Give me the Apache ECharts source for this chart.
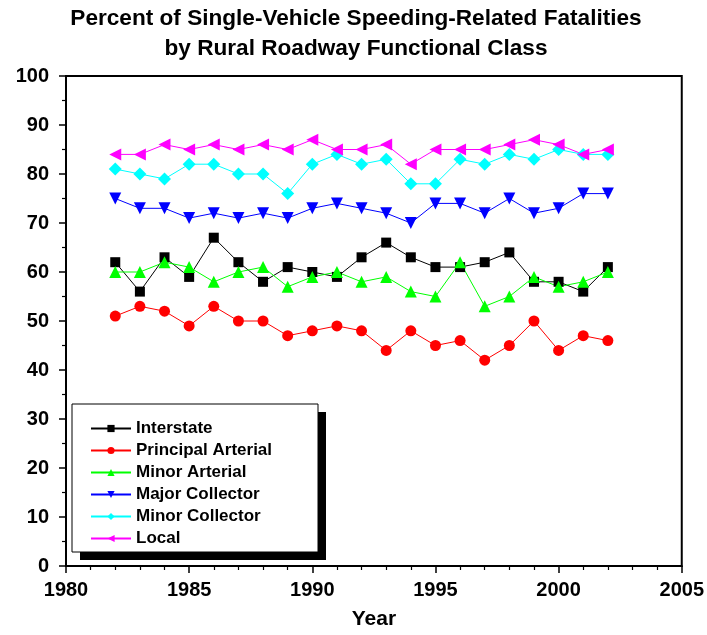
<!DOCTYPE html>
<html><head><meta charset="utf-8">
<script src="https://cdn.jsdelivr.net/npm/echarts@6/dist/echarts.min.js"></script>
<style>html,body{margin:0;padding:0;background:#fff}#c{width:707px;height:635px}</style>
</head><body><div id="c"></div>
<script>
const years = [1982,1983,1984,1985,1986,1987,1988,1989,1990,1991,1992,1993,1994,1995,1996,1997,1998,1999,2000,2001,2002];
const interstate = [62,56,63,59,67,62,58,61,60,59,63,66,63,61,61,62,64,58,58,56,61];
const principalArterial = [51,53,52,49,53,50,50,47,48,49,48,44,48,45,46,42,45,50,44,47,46];
const minorArterial = [60,60,62,61,58,60,61,57,59,60,58,59,56,55,62,53,55,59,57,58,60];
const majorCollector = [75,73,73,71,72,71,72,71,73,74,73,72,70,74,74,72,75,72,73,76,76];
const minorCollector = [81,80,79,82,82,80,80,76,82,84,82,83,78,78,83,82,84,83,85,84,84];
const local = [84,84,86,85,86,85,86,85,87,85,85,86,82,85,85,85,86,87,86,84,85];
const seriesNames = ['Interstate','Principal Arterial','Minor Arterial','Major Collector','Minor Collector','Local'];
const titleText = 'Percent of Single-Vehicle Speeding-Related Fatalities\nby Rural Roadway Functional Class';

const FONT = 'Liberation Sans, Arial, sans-serif';
const pair = arr => years.map((y,i)=>[y,arr[i]]);
const defs = [
  {data: interstate, color:'#000000', symbol:'rect', size:10, rot:0},
  {data: principalArterial, color:'#ff0000', symbol:'circle', size:11, rot:0},
  {data: minorArterial, color:'#00ff00', symbol:'triangle', size:12, rot:0},
  {data: majorCollector, color:'#0000ff', symbol:'triangle', size:12, rot:180},
  {data: minorCollector, color:'#00ffff', symbol:'diamond', size:13, rot:0},
  {data: local, color:'#ff00ff', symbol:'triangle', size:12, rot:90}
];
const chart = echarts.init(document.getElementById('c'));
chart.setOption({
  animation:false,
  backgroundColor:'#fff',
  title:{text:titleText,left:356,top:0,textAlign:'center',padding:[4,0,0,0],
    textStyle:{fontFamily:FONT,fontWeight:'bold',fontSize:22.6,lineHeight:30,color:'#000'}},
  grid:{left:66,right:24,top:76,bottom:68,show:true,borderColor:'#000',borderWidth:2,backgroundColor:'transparent'},
  graphic:[
    {type:'rect',shape:{x:80,y:412,width:246,height:148},style:{fill:'#000'},z:5},
    {type:'rect',shape:{x:72,y:404,width:246,height:148},style:{fill:'#fff',stroke:'#000',lineWidth:1},z:6}
  ],
  legend:{orient:'vertical',left:90,top:420,padding:0,itemWidth:40,itemHeight:9,itemGap:5,itemStyle:{borderWidth:0},z:10,
    textStyle:{fontFamily:FONT,fontWeight:'bold',fontSize:17,color:'#000'},
    data:seriesNames},
  xAxis:{type:'value',min:1980,max:2005,interval:5,
    name:'Year',nameLocation:'middle',nameGap:43,
    nameTextStyle:{fontFamily:FONT,fontWeight:'bold',fontSize:21,color:'#000'},
    axisLine:{show:true,lineStyle:{color:'#000',width:2}},
    axisTick:{show:true,length:7,lineStyle:{color:'#000',width:1.5}},
    minorTick:{show:true,splitNumber:5,length:4,lineStyle:{color:'#000',width:1.2}},
    splitLine:{show:false},
    axisLabel:{margin:14,formatter:v=>String(v),fontFamily:FONT,fontWeight:'bold',fontSize:20,color:'#000'}},
  yAxis:{type:'value',min:0,max:100,interval:10,
    axisLine:{show:true,lineStyle:{color:'#000',width:2}},
    axisTick:{show:true,length:7,lineStyle:{color:'#000',width:1.5}},
    minorTick:{show:true,splitNumber:2,length:4,lineStyle:{color:'#000',width:1.2}},
    splitLine:{show:false},
    axisLabel:{margin:17,fontFamily:FONT,fontWeight:'bold',fontSize:20,color:'#000'}},
  series: defs.map((d,i)=>({
    name:seriesNames[i],type:'line',data:pair(d.data),
    symbol:d.symbol,symbolSize:d.size,symbolRotate:d.rot,showSymbol:true,
    itemStyle:{color:d.color},lineStyle:{color:d.color,width:1},z:3
  }))
});
</script></body></html>
